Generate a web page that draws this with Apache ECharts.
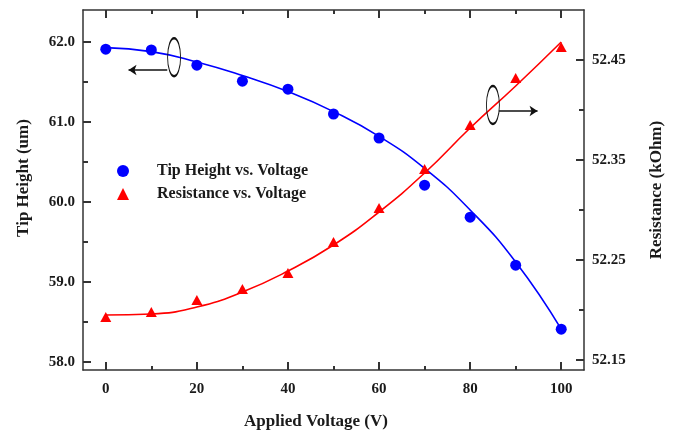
<!DOCTYPE html>
<html>
<head>
<meta charset="utf-8">
<title>Tip Height and Resistance vs. Applied Voltage</title>
<script src="https://cdn.jsdelivr.net/npm/echarts@6.0.0/dist/echarts.min.js"></script>
<style>
  html, body { margin: 0; padding: 0; background: #fff; }
  #chart { width: 681px; height: 436px; }
</style>
</head>
<body>
<div id="chart"></div>
<script>
const voltage = [0, 10, 20, 30, 40, 50, 60, 70, 80, 90, 100]
const tipHeight = [61.91, 61.90, 61.71, 61.51, 61.41, 61.10, 60.80, 60.21, 59.81, 59.21, 58.41]
const resistance = [52.193, 52.198, 52.210, 52.221, 52.237, 52.268, 52.302, 52.341, 52.385, 52.432, 52.463]
// fitted curves at the same voltages
const tipHeightFit = [61.93, 61.88, 61.75, 61.58, 61.38, 61.13, 60.82, 60.42, 59.90, 59.25, 58.41]
const resistanceFit = [52.195, 52.196, 52.203, 52.218, 52.239, 52.265, 52.298, 52.337, 52.382, 52.424, 52.468]

const voltageTicks = [0, 20, 40, 60, 80, 100]
const voltageMinorTicks = [10, 30, 50, 70, 90]
const heightTicks = [58, 59, 60, 61, 62]
const heightMinorTicks = [58.5, 59.5, 60.5, 61.5]
const resistanceTicks = [52.15, 52.25, 52.35, 52.45]
const resistanceMinorTicks = [52.2, 52.3, 52.4]

// ellipse + arrow showing which axis each curve belongs to (data units)
const heightPointer = { ellipse: [15, 61.81], arrowFrom: [13.5, 61.65], arrowTo: [5, 61.65] }
const resistancePointer = { ellipse: [85, 52.405], arrowFrom: [86.3, 52.399], arrowTo: [94.8, 52.399] }

const FONT = 'Liberation Serif'
const INK = '#1a1a1a'
const FRAME = '#333333'

const pairs = (ys) => voltage.map((v, i) => [v, ys[i]])

const frameLine = (show) => ({ show: show, onZero: false, lineStyle: { color: FRAME, width: 1.5 } })
const tickStyle = { color: FRAME, width: 2 }
const labelStyle = { fontFamily: FONT, fontWeight: 'bold', fontSize: 15, color: INK }
const nameStyle = { fontFamily: FONT, fontWeight: 'bold', fontSize: 17, color: INK }

// axis that only draws a set of ticks (used for the minor ticks and the top frame)
const tickAxis = (base, ticks, length, showLine) => ({
  type: 'value',
  ...base,
  axisLine: frameLine(showLine),
  axisTick: { show: true, inside: true, length: length, customValues: ticks, lineStyle: tickStyle },
  axisLabel: { show: false },
  splitLine: { show: false }
})

const xRange = { min: -5, max: 105 }
const heightRange = { min: 57.9, max: 62.4 }
const resistanceRange = { min: 52.14, max: 52.5 }

const pointer = (p) => ({
  markPoint: {
    silent: true,
    symbolKeepAspect: false,
    data: [{
      coord: p.ellipse,
      symbol: 'circle',
      symbolSize: [13, 38],
      itemStyle: { color: 'rgba(0,0,0,0)', borderColor: '#111', borderWidth: 1.5 },
      label: { show: false }
    }]
  },
  markLine: {
    silent: true,
    symbol: ['none', 'arrow'],
    symbolSize: 8,
    label: { show: false },
    lineStyle: { color: '#111', width: 1.5, type: 'solid' },
    data: [[{ coord: p.arrowFrom }, { coord: p.arrowTo }]]
  }
})

const chart = echarts.init(document.getElementById('chart'))
chart.setOption({
  animation: false,
  grid: { left: 83, right: 97, top: 10, bottom: 66 },
  legend: {
    orient: 'vertical',
    left: 112,
    top: 158,
    itemWidth: 12,
    itemHeight: 12,
    itemGap: 7,
    selectedMode: false,
    data: ['Tip Height vs. Voltage', 'Resistance vs. Voltage'],
    formatter: (name) => '{gap|}' + name,
    textStyle: {
      fontFamily: FONT,
      fontWeight: 'bold',
      fontSize: 16,
      lineHeight: 16,
      color: INK,
      rich: { gap: { width: 23 } }
    }
  },
  xAxis: [
    {
      type: 'value',
      ...xRange,
      position: 'bottom',
      axisLine: frameLine(true),
      axisTick: { show: true, inside: true, length: 8, customValues: voltageTicks, lineStyle: tickStyle },
      axisLabel: { customValues: voltageTicks, margin: 12, ...labelStyle },
      splitLine: { show: false },
      name: 'Applied Voltage (V)',
      nameLocation: 'middle',
      nameGap: 43,
      nameTextStyle: { ...nameStyle, padding: [0, 35, 0, 0] }
    },
    tickAxis({ ...xRange, position: 'bottom' }, voltageMinorTicks, 4, false),
    tickAxis({ ...xRange, position: 'top' }, voltageTicks, 8, true),
    tickAxis({ ...xRange, position: 'top' }, voltageMinorTicks, 4, false)
  ],
  yAxis: [
    {
      type: 'value',
      ...heightRange,
      position: 'left',
      axisLine: frameLine(true),
      axisTick: { show: true, inside: true, length: 8, customValues: heightTicks, lineStyle: tickStyle },
      axisLabel: { customValues: heightTicks, margin: 8, formatter: (v) => v.toFixed(1), ...labelStyle },
      splitLine: { show: false },
      name: 'Tip Height (um)',
      nameLocation: 'middle',
      nameRotate: 90,
      nameGap: 51,
      nameTextStyle: { ...nameStyle, padding: [0, 0, 0, 24] }
    },
    {
      type: 'value',
      ...resistanceRange,
      position: 'right',
      axisLine: frameLine(true),
      axisTick: { show: true, inside: true, length: 8, customValues: resistanceTicks, lineStyle: tickStyle },
      axisLabel: { customValues: resistanceTicks, margin: 8, formatter: (v) => v.toFixed(2), ...labelStyle },
      splitLine: { show: false },
      name: 'Resistance (kOhm)',
      nameLocation: 'middle',
      nameRotate: 90,
      nameGap: 64,
      nameTextStyle: nameStyle
    },
    tickAxis({ ...heightRange, position: 'left' }, heightMinorTicks, 5, false),
    tickAxis({ ...resistanceRange, position: 'right' }, resistanceMinorTicks, 5, false)
  ],
  series: [
    {
      type: 'line',
      xAxisIndex: 0,
      yAxisIndex: 0,
      data: pairs(tipHeightFit),
      smooth: true,
      showSymbol: false,
      silent: true,
      z: 2,
      lineStyle: { color: '#0000ff', width: 1.6 }
    },
    {
      name: 'Tip Height vs. Voltage',
      type: 'scatter',
      xAxisIndex: 0,
      yAxisIndex: 0,
      data: pairs(tipHeight),
      symbol: 'circle',
      symbolSize: 11,
      z: 3,
      itemStyle: { color: '#0000ff', opacity: 1 },
      ...pointer(heightPointer)
    },
    {
      type: 'line',
      xAxisIndex: 0,
      yAxisIndex: 1,
      data: pairs(resistanceFit),
      smooth: true,
      showSymbol: false,
      silent: true,
      z: 2,
      lineStyle: { color: '#ff0000', width: 1.6 }
    },
    {
      name: 'Resistance vs. Voltage',
      type: 'scatter',
      xAxisIndex: 0,
      yAxisIndex: 1,
      data: pairs(resistance),
      symbol: 'triangle',
      symbolSize: [11, 10],
      z: 3,
      itemStyle: { color: '#ff0000', opacity: 1 },
      ...pointer(resistancePointer)
    }
  ]
})
</script>
</body>
</html>
